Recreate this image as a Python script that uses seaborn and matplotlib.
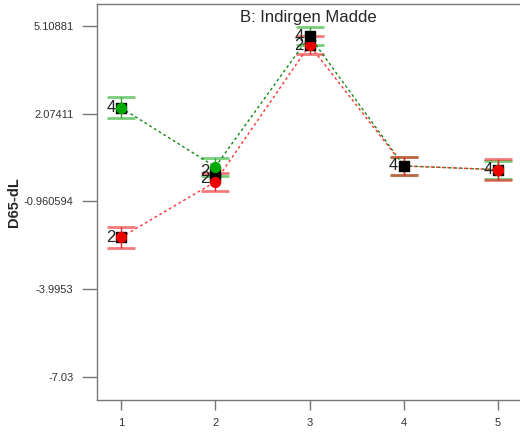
import matplotlib
matplotlib.use("Agg")
import matplotlib.pyplot as plt
import seaborn as sns
import pandas as pd

# Factor levels and predicted means for the two series
levels = [1, 2, 3, 4, 5]
green_y = [2.28, 0.24, 4.76, 0.27, 0.14]
red_y = [-2.20, -0.28, 4.45, 0.27, 0.14]
green_err = [0.37, 0.32, 0.32, 0.32, 0.31]
red_err = [0.37, 0.32, 0.32, 0.32, 0.36]

# Design points (black squares) with replicate counts
dp_x = [1, 1, 2, 2, 3, 3, 4, 5]
dp_y = [2.28, -2.20, 0.06, -0.15, 4.76, 4.45, 0.27, 0.14]
dp_n = ["4", "2", "2", "2", "4", "2", "4", "4"]

yticks = [5.10881, 2.07411, -0.960594, -3.9953, -7.03]
ytick_labels = ["5.10881", "2.07411", "-0.960594", "-3.9953", "-7.03"]

sns.set_style("ticks")
plt.rcParams['font.family'] = ['Liberation Sans', 'DejaVu Sans']

df = pd.DataFrame({
    "B": levels * 2,
    "y": green_y + red_y,
    "series": ["green"] * 5 + ["red"] * 5,
})

fig = plt.figure(figsize=(5.2, 4.36), dpi=100)
ax = fig.add_axes([97 / 520, 36 / 436, 423 / 520, 396 / 436])

# error bars
ax.errorbar(levels, green_y, yerr=green_err, fmt="none", ecolor="#22aa22",
            elinewidth=1, capsize=10, capthick=2, zorder=2)
ax.errorbar(levels, red_y, yerr=red_err, fmt="none", ecolor="#ee2222",
            elinewidth=1, capsize=10, capthick=2, zorder=2)
# lighten the caps a bit
for coll in ax.lines:
    coll.set_alpha(0.6)

sns.lineplot(data=df, x="B", y="y", hue="series",
             palette={"green": "#118811", "red": "#ff3333"},
             linewidth=1, legend=False, ax=ax, zorder=3)
for ln in ax.get_lines()[-2:]:
    ln.set_linestyle((0, (2, 2)))

# predicted means
ax.scatter(levels, green_y, marker="o", s=50, color="#00aa00", zorder=5)
ax.scatter(levels, red_y, marker="o", s=50, color="#ee0000", zorder=5)

# design points (some sit on top of the means, as in the original)
top_pts = {4, 6}
for i, (x, y, n) in enumerate(zip(dp_x, dp_y, dp_n)):
    z = 6 if i in top_pts else 4
    ax.scatter([x], [y], marker="s", s=52, color="black", zorder=z)
    ax.annotate(n, (x, y), xytext=(-4, 0), textcoords="offset points",
                ha="right", va="center", fontsize=12, color="#222222", zorder=7)

ax.set_xlim(0.745, 5.233)
ax.set_ylim(-7.825, 5.869)
ax.set_xticks(levels)
ax.set_xticklabels([str(v) for v in levels], fontsize=8, color="#333333")
ax.set_yticks(yticks)
ax.set_yticklabels(ytick_labels, fontsize=8, color="#333333")
ax.tick_params(axis="y", length=11, width=1, color="#777777", pad=6)
ax.tick_params(axis="x", length=7, width=1, color="#777777", pad=6)

for side in ["left", "bottom", "top"]:
    ax.spines[side].set_color("#777777")
    ax.spines[side].set_linewidth(1)
ax.spines["right"].set_visible(False)

ax.set_xlabel("")
ax.set_ylabel("D65-dL", fontsize=10.5, fontweight="bold")
ax.yaxis.set_label_coords(-0.18, 0.5)
ax.text(0.5, 0.985, "B: Indirgen Madde", transform=ax.transAxes,
        ha="center", va="top", fontsize=12)

fig.savefig("out.png", dpi=100)
